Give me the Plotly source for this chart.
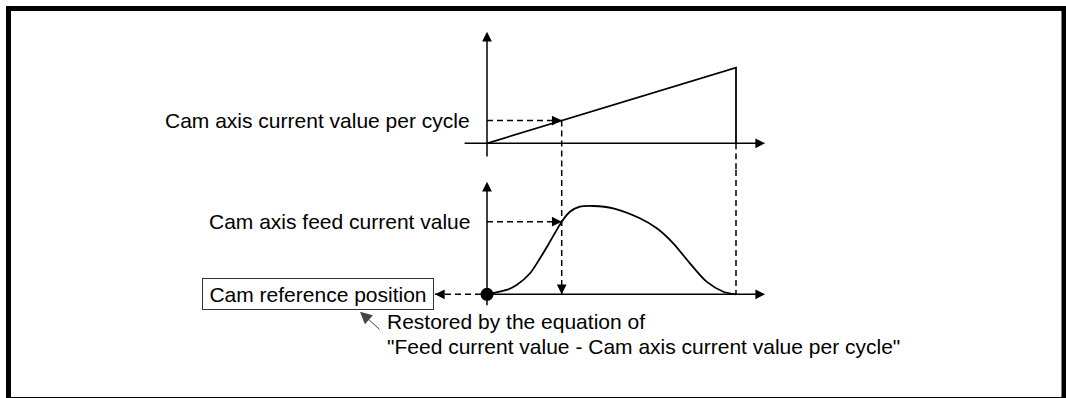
import plotly.graph_objects as go

# ---- data (normalised cam cycle on x) ----
cycle_x = [0.0, 1.0, 1.0]              # one cam cycle, then reset
cycle_value = [0.0, 1.0, 0.0]          # cam axis current value per cycle (ramp)

feed_x = [0.0, 0.079, 0.119, 0.173, 0.213, 0.253, 0.30, 0.333, 0.373, 0.427,
          0.507, 0.614, 0.682, 0.748, 0.815, 0.882, 0.949, 1.0]
feed_value = [0.0, 0.049, 0.105, 0.238, 0.408, 0.596, 0.822, 0.935, 0.992, 1.0,
              0.974, 0.861, 0.747, 0.578, 0.351, 0.143, 0.029, 0.0]

sample_x = 0.30            # restore point inside the cycle
sample_cycle_value = 0.30  # value on the ramp at that point
sample_feed_value = 0.822  # value on the feed curve at that point

labels = {
    "cycle": "Cam axis current value per cycle",
    "feed": "Cam axis feed current value",
    "ref": "Cam reference position",
    "note1": "Restored by the equation of",
    "note2": "\"Feed current value - Cam axis current value per cycle\"",
}

# ---- layout constants ----
W, H = 1066, 398
FONT = "Liberation Sans, Arial, sans-serif"
FS = 21
INK = "black"
LW = 1.8
DASH = "6px,4px"

TOP_RANGE = [-0.353, 1.8955]
BOT_RANGE = [-1.1744, 1.4077]
X_RANGE = [-1.9558, 2.3253]
SPLIT = 0.5729
REF_TIP_X = -0.209

fig = go.Figure()

def dashed(x, y, yaxis):
    fig.add_trace(go.Scatter(x=x, y=y, yaxis=yaxis, mode="lines",
                             line=dict(color=INK, width=1.5, dash=DASH),
                             hoverinfo="skip", showlegend=False))

# dashed guide lines
dashed([0, sample_x], [sample_cycle_value] * 2, "y")
dashed([sample_x, sample_x], [sample_cycle_value, TOP_RANGE[0]], "y")
dashed([cycle_x[-1], cycle_x[-1]], [0, TOP_RANGE[0]], "y")
dashed([sample_x, sample_x], [BOT_RANGE[1], 0], "y2")
dashed([feed_x[-1], feed_x[-1]], [BOT_RANGE[1], 0], "y2")
dashed([0, sample_x], [sample_feed_value] * 2, "y2")
dashed([REF_TIP_X, 0], [0, 0], "y2")

# ramp of the cam axis current value per cycle
fig.add_trace(go.Scatter(x=cycle_x, y=cycle_value, yaxis="y", mode="lines",
                         line=dict(color=INK, width=LW),
                         hoverinfo="skip", showlegend=False))

# cam axis feed current value
fig.add_trace(go.Scatter(x=feed_x, y=feed_value, yaxis="y2", mode="lines",
                         line=dict(color=INK, width=LW, shape="spline", smoothing=0.8),
                         hoverinfo="skip", showlegend=False))

# cam reference position dot
fig.add_trace(go.Scatter(x=[feed_x[0]], y=[feed_value[0]], yaxis="y2", mode="markers",
                         marker=dict(color=INK, size=13),
                         hoverinfo="skip", showlegend=False))

ann = []

def axis_arrow(x, y, ax, ay, yref):
    ann.append(dict(x=x, y=y, ax=ax, ay=ay, xref="x", yref=yref, axref="x", ayref=yref,
                    text="", showarrow=True, arrowhead=2, arrowsize=1.3,
                    arrowwidth=1.5, arrowcolor=INK, standoff=0, startstandoff=0))

# axes with arrowheads
axis_arrow(1.117, 0, -0.096, 0, "y")
axis_arrow(0, 1.476, 0, -0.194, "y")
axis_arrow(1.117, 0, 0, 0, "y2")
axis_arrow(0, 1.275, 0, -0.14, "y2")

def head(x, y, yref, ax, ay):
    ann.append(dict(x=x, y=y, xref="x", yref=yref, ax=ax, ay=ay,
                    text="", showarrow=True, arrowhead=2, arrowsize=1.3,
                    arrowwidth=1.5, arrowcolor=INK, standoff=0))

head(sample_x, sample_cycle_value, "y", -10, 0)
head(sample_x, sample_feed_value, "y2", -10, 0)
head(sample_x, 0, "y2", 0, -10)
head(REF_TIP_X, 0, "y2", 10, 0)

txt = dict(family=FONT, size=FS, color=INK)

ann.append(dict(x=0, y=sample_cycle_value, xref="x", yref="y", text=labels["cycle"],
                showarrow=False, xanchor="right", yanchor="middle", xshift=-15, font=txt))
ann.append(dict(x=0, y=sample_feed_value, xref="x", yref="y2", text=labels["feed"],
                showarrow=False, xanchor="right", yanchor="middle", xshift=-15, font=txt))
ann.append(dict(x=0, y=0, xref="x", yref="y2", text=labels["ref"],
                showarrow=False, xanchor="right", yanchor="middle", xshift=-53.5,
                width=224, height=24, borderpad=3, bordercolor="#333", borderwidth=1,
                font=txt))

ann.append(dict(x=385 / W, y=(H - 321) / H, xref="paper", yref="paper", text=labels["note1"],
                showarrow=False, xanchor="left", yanchor="middle", font=txt))
ann.append(dict(x=385 / W, y=(H - 346) / H, xref="paper", yref="paper", text=labels["note2"],
                showarrow=False, xanchor="left", yanchor="middle", font=txt))

# pointer from the note to the reference box
ann.append(dict(x=360 / W, y=(H - 311.7) / H, xref="paper", yref="paper", ax=21, ay=19,
                text="", showarrow=True, arrowhead=2, arrowsize=2.4, arrowwidth=1,
                arrowcolor="#444", standoff=0))

fig.update_layout(
    width=W, height=H,
    margin=dict(l=0, r=0, t=0, b=0),
    paper_bgcolor="white", plot_bgcolor="white",
    xaxis=dict(range=X_RANGE, domain=[0, 1], visible=False, fixedrange=True),
    yaxis=dict(range=TOP_RANGE, domain=[SPLIT, 1], visible=False, fixedrange=True),
    yaxis2=dict(range=BOT_RANGE, domain=[0, SPLIT], visible=False, fixedrange=True),
    annotations=ann,
    shapes=[dict(type="rect", xref="paper", yref="paper",
                 x0=8.5 / W, x1=1064 / W, y0=(H - 399.5) / H, y1=(H - 8.5) / H,
                 line=dict(color=INK, width=5), fillcolor="rgba(0,0,0,0)")],
    showlegend=False,
)

fig.write_html("out.html")
